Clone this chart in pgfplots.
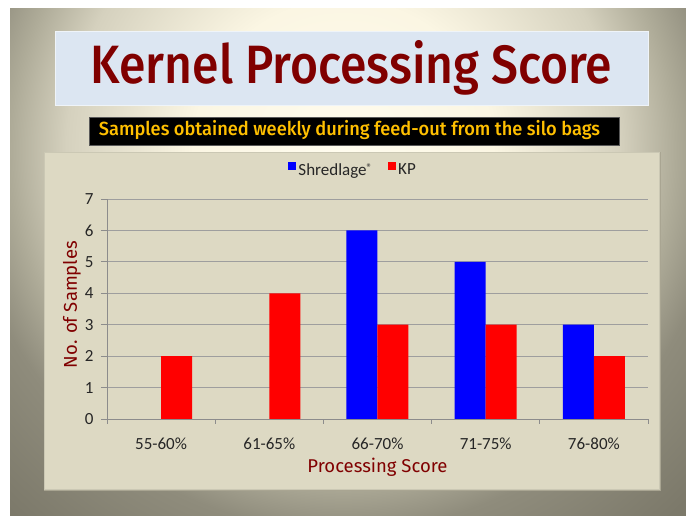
\documentclass[border=0pt]{standalone}
\usepackage{pgfplots}
\pgfplotsset{compat=1.18}
\usepackage{fontspec}
\setmainfont{Carlito}
\newfontfamily\comic{Fira Sans}[UprightFont=* Medium]
\newfontfamily\comicr{Fira Sans}
\definecolor{bg0}{HTML}{FFFCEE}
\definecolor{bg1}{HTML}{FBF6E3}
\definecolor{bg2}{HTML}{D5D1BE}
\definecolor{bg3}{HTML}{AEAB98}
\definecolor{bg4}{HTML}{9C9988}
\definecolor{bg5}{HTML}{8F8C7C}
\definecolor{bg6}{HTML}{7C796A}
\definecolor{titlebox}{HTML}{DCE6F2}
\definecolor{titlered}{HTML}{800000}
\definecolor{gold}{HTML}{FFC000}
\definecolor{chartbg}{HTML}{DDD9C3}
\definecolor{chartshadow}{HTML}{A9A592}
\definecolor{gridgray}{HTML}{9E9E9E}
\definecolor{axisgray}{HTML}{8C8C8C}
\definecolor{labelgray}{HTML}{262626}
\pgfdeclareradialshading{slidebg}{\pgfpoint{0bp}{0bp}}{%
 color(0bp)=(bg0); color(7.2bp)=(bg1); color(13.3bp)=(bg2); color(16bp)=(bg3);
 color(17.3bp)=(bg4); color(18.3bp)=(bg5); color(23.6bp)=(bg6); color(25bp)=(bg6); color(50bp)=(bg6)}
\begin{document}
\begin{tikzpicture}[x=1pt,y=1pt]
\path[use as bounding box] (0,0) rectangle (686,516);
\fill[white] (0,0) rectangle (686,516);
\begin{scope}
\clip (10,0) rectangle (686,507);
\shade[shading=slidebg] (343,366) circle[radius=520pt];
\end{scope}
% title box
\fill[titlebox] (55,410) rectangle (648,484);
\draw[white!55!titlebox, line width=1pt] (55,410) rectangle (648,484);
\node[text=titlered, font=\comic\fontsize{54}{60}\selectfont, inner sep=0pt, xscale=0.89] at (351.5,448) {Kernel Processing Score};
% subtitle box
\fill[black] (89,371) rectangle (619,399);
\draw[gray!70!black, line width=0.8pt] (89,371) rectangle (619,399);
\node[text=gold, font=\comic\fontsize{19}{22}\selectfont, inner sep=0pt, xscale=0.96] at (349.5,385.5) {Samples obtained weekly during feed-out from the silo bags};
% chart area
\fill[chartshadow] (44,25) rectangle (661,364);
\fill[chartbg] (44,27) rectangle (659,364);
\draw[chartbg!92!black, line width=0.6pt] (44,27) rectangle (659,364);
\begin{axis}[
  at={(107pt,97pt)}, anchor=south west,
  scale only axis, width=541pt, height=220pt,
  xmin=-0.5, xmax=4.5, ymin=0, ymax=7,
  ybar=0pt, bar width=31pt,
  axis lines*=left,
  axis line style={axisgray, line width=0.9pt},
  ytick={0,1,2,3,4,5,6,7},
  ymajorgrids, grid style={gridgray, line width=0.9pt},
  xtick={0,1,2,3,4},
  xticklabels={55-60\%,61-65\%,66-70\%,71-75\%,76-80\%},
  minor xtick={-0.5,0.5,1.5,2.5,3.5,4.5},
  tick align=outside,
  major tick length=6pt, minor tick length=5pt,
  major x tick style={draw=none},
  minor x tick style={axisgray, line width=0.9pt},
  major y tick style={axisgray, line width=0.9pt},
  /pgf/number format/assume math mode=true,
  tick label style={font=\fontsize{17}{19}\selectfont, text=labelgray},
  xticklabel style={yshift=-9pt},
  yticklabel style={xshift=-4pt},
  xlabel={Processing Score},
  ylabel={No. of Samples},
  xlabel style={at={(axis description cs:0.5,-0.218)}, anchor=center, text=titlered, font=\comicr\fontsize{18.5}{20}\selectfont},
  ylabel style={at={(axis description cs:-0.0647,0.52)}, anchor=center, text=titlered, font=\comicr\fontsize{18.5}{20}\selectfont},
  legend style={at={(0.455,1.1318)}, anchor=center, draw=none, fill=none,
    legend columns=2, font=\fontsize{17}{19}\selectfont, text=labelgray,
    /tikz/every even column/.append style={column sep=14pt}},
  legend cell align=left,
  legend image code/.code={\fill[#1] (-2pt,0pt) rectangle (6pt,8pt);},
  y filter/.expression={y==0 ? nan : y},
  unbounded coords=discard,
]
\addplot[fill=blue, draw=none] coordinates {(0,0) (1,0) (2,6) (3,5) (4,3)};
\addplot[fill=red, draw=none] coordinates {(0,2) (1,4) (2,3) (3,3) (4,2)};
\legend{Shredlage{\fontsize{11}{11}\selectfont\raisebox{4pt}{®}},KP}
\end{axis}
\end{tikzpicture}
\end{document}
